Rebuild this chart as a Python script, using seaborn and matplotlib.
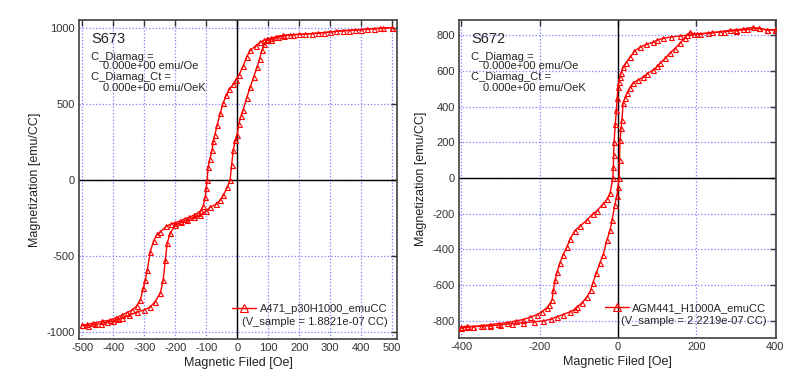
import matplotlib
matplotlib.use("Agg")
import numpy as np
import pandas as pd
import matplotlib.pyplot as plt
import seaborn as sns
from matplotlib.lines import Line2D
from matplotlib.ticker import MultipleLocator

# ── Data ───────────────────────────────────────────────────────────────────────
# S673: field sweep +500 -> -500 (down) and -500 -> +500 (up)
s673_down_h = [500, 470, 440, 400, 360, 320, 280, 240, 200, 170, 148, 125, 110, 96, 85, 74,
               60, 42, 30, 19, 5, -5, -13, -25, -35, -45, -55, -65, -72, -77, -81, -88,
               -94, -97, -100, -103, -110, -118, -125, -140, -155, -170, -185, -200, -215,
               -230, -248, -258, -270, -281, -290, -297, -303, -313, -325, -339, -355,
               -371, -390, -410, -435, -465, -485, -500]
s673_down_m = [1005, 1000, 998, 990, 985, 980, 972, 965, 960, 958, 954, 945, 935, 930, 920, 908,
               885, 855, 810, 750, 690, 660, 630, 600, 560, 510, 440, 360, 300, 260, 200, 140,
               86, 0, -50, -110, -170, -200, -215, -230, -245, -255, -270, -280, -290,
               -305, -342, -355, -400, -474, -592, -660, -711, -790, -830, -855, -872,
               -888, -905, -921, -930, -941, -950, -954]
s673_up_h = [-500, -480, -460, -440, -420, -400, -385, -371, -350, -323, -300, -281, -265,
             -248, -239, -232, -226, -216, -200, -180, -161, -140, -119, -100, -87, -70,
             -55, -45, -32, -23, -18, -13, -6, 0, 5, 12, 19, 30, 42, 53, 64, 72, 80, 88,
             96, 110, 130, 150, 180, 220, 260, 300, 340, 380, 420, 460, 500]
s673_up_m = [-955, -958, -950, -945, -935, -930, -915, -908, -890, -868, -855, -835, -800,
             -744, -658, -526, -414, -349, -296, -275, -263, -245, -230, -200, -178, -160,
             -132, -100, -46, 0, 100, 197, 263, 300, 370, 420, 461, 540, 612, 680, 743, 800,
             855, 895, 921, 925, 940, 950, 958, 962, 968, 975, 985, 990, 995, 1000, 1005]

# S672: field sweep +400 -> -400 (down) and -400 -> +400 (up)
s672_down_h = [400, 380, 360, 344, 320, 300, 285, 260, 230, 201, 176, 158, 135, 115, 100, 89,
               72, 56, 42, 31, 20, 13, 8, 5, 2, 0, -2, -4, -7, -10, -11, -12, -13, -20, -28,
               -38, -54, -64, -79, -97, -110, -122, -130, -140, -148, -155, -160, -165,
               -168, -175, -181, -195, -206, -225, -242, -260, -283, -305, -326, -345,
               -369, -385, -400]
s672_down_m = [830, 827, 838, 843, 835, 830, 827, 818, 810, 804, 800, 795, 790, 782, 772, 760,
               748, 732, 710, 676, 645, 620, 590, 564, 535, 508, 450, 380, 300, 200, 130, 60,
               0, -84, -120, -145, -185, -200, -235, -270, -295, -340, -385, -430, -475,
               -525, -570, -630, -682, -710, -726, -750, -765, -780, -793, -800, -810,
               -815, -821, -826, -832, -830, -835]
s672_up_h = [-400, -385, -369, -350, -326, -300, -270, -242, -215, -191, -170, -155, -140,
             -122, -110, -104, -92, -79, -70, -64, -55, -46, -38, -28, -20, -15, -8, -3, 0,
             3, 4, 5, 8, 10, 13, 18, 23, 30, 38, 50, 64, 75, 89, 100, 107, 120, 132, 145,
             158, 170, 183, 195, 210, 240, 270, 300, 330, 360, 380, 400]
s672_up_m = [-840, -835, -832, -830, -828, -822, -815, -810, -806, -800, -790, -776, -765,
             -749, -735, -721, -700, -665, -630, -587, -530, -475, -430, -346, -290, -235,
             -150, -100, -50, 0, 100, 212, 280, 324, 419, 450, 475, 505, 531, 548, 564, 585,
             603, 625, 642, 670, 698, 725, 754, 785, 815, 805, 808, 815, 820, 825, 832, 838,
             830, 828]

PANELS = [
    dict(name="S673", legend="A471_p30H1000_emuCC", vsample="(V_sample = 1.8821e-07 CC)",
         down=(s673_down_h, s673_down_m), up=(s673_up_h, s673_up_m),
         xlim=(-510, 515), ylim=(-1046, 1055), xstep=100, ystep=500,
         rect=[0.099, 0.133, 0.397, 0.816]),
    dict(name="S672", legend="AGM441_H1000A_emuCC", vsample="(V_sample = 2.2219e-07 CC)",
         down=(s672_down_h, s672_down_m), up=(s672_up_h, s672_up_m),
         xlim=(-405, 403), ylim=(-895, 885), xstep=200, ystep=200,
         rect=[0.574, 0.136, 0.396, 0.813]),
]

RED = "#ff0000"

sns.set_style("white")
plt.rcParams["font.family"] = ["Liberation Sans", "DejaVu Sans"]
plt.rcParams["axes.unicode_minus"] = False

fig = plt.figure(figsize=(8, 3.91), dpi=100)


def draw_panel(p):
    ax = fig.add_axes(p["rect"])
    df = pd.concat([
        pd.DataFrame({"H": p["down"][0], "M": p["down"][1], "branch": "down"}),
        pd.DataFrame({"H": p["up"][0], "M": p["up"][1], "branch": "up"}),
    ], ignore_index=True)

    # grid + zero lines
    ax.grid(True, color="#7f7fff", linestyle=":", linewidth=0.9)
    ax.axvline(0, color="black", linewidth=1.0, zorder=1)
    ax.axhline(0, color="black", linewidth=1.0, zorder=1)

    sns.lineplot(data=df, x="H", y="M", units="branch", estimator=None, sort=False,
                 color=RED, linewidth=1.0, marker="^", markersize=3.6,
                 markerfacecolor="none", markeredgecolor=RED, markeredgewidth=0.8,
                 legend=False, ax=ax, zorder=3)

    ax.set_xlim(*p["xlim"])
    ax.set_ylim(*p["ylim"])
    ax.xaxis.set_major_locator(MultipleLocator(p["xstep"]))
    ax.yaxis.set_major_locator(MultipleLocator(p["ystep"]))
    ax.tick_params(direction="in", length=4, width=1, top=True, right=True,
                   labelsize=8, colors="#333333", pad=3)
    for s in ax.spines.values():
        s.set_color("#404040")
        s.set_linewidth(1.2)

    ax.set_xlabel("Magnetic Filed [Oe]", fontsize=9, color="#222222", labelpad=3)
    ax.set_ylabel("Magnetization [emu/CC]", fontsize=9, color="#222222", labelpad=4)

    # sample annotation
    ax.text(0.037, 0.940, p["name"], transform=ax.transAxes, fontsize=10.5,
            va="center", ha="left")
    for y, x, t in [(0.884, 0.037, "C_Diamag ="),
                    (0.855, 0.076, "0.000e+00 emu/Oe"),
                    (0.820, 0.037, "C_Diamag_Ct ="),
                    (0.787, 0.076, "0.000e+00 emu/OeK")]:
        ax.text(x, y, t, transform=ax.transAxes, fontsize=8, va="center", ha="left")

    handle = Line2D([], [], color=RED, linewidth=1.0, marker="^", markersize=6,
                    markerfacecolor="none", markeredgecolor=RED, markeredgewidth=0.8)
    ax.legend([handle], [p["legend"]], loc="center right", bbox_to_anchor=(0.97, 0.094),
              frameon=False, fontsize=8, borderpad=0, borderaxespad=0,
              handlelength=2.2, handletextpad=0.3)
    ax.text(0.97, 0.053, p["vsample"], transform=ax.transAxes, fontsize=8,
            va="center", ha="right")
    return ax


for p in PANELS:
    draw_panel(p)

fig.savefig("out.png", dpi=100)
